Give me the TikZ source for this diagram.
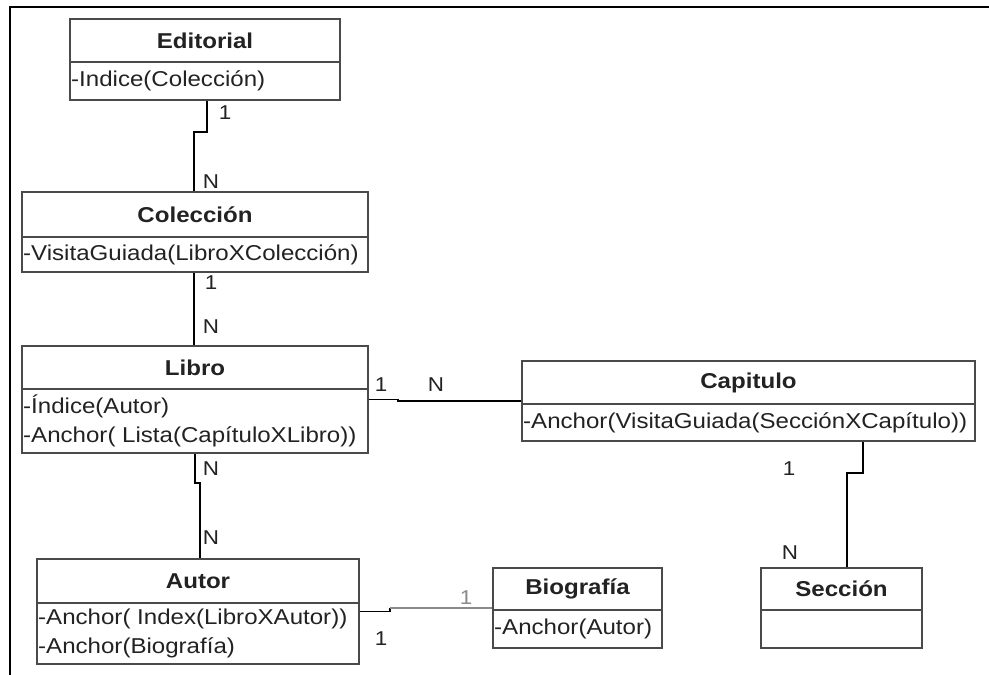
\documentclass[tikz,border=0pt]{standalone}
\usepackage{fontspec}
\setmainfont{Liberation Sans}[FakeStretch=1.12]
\usetikzlibrary{calc}
\definecolor{boxgray}{HTML}{4A4A4A}
\definecolor{txt}{HTML}{222222}
\definecolor{lightline}{HTML}{8A8A8A}
\tikzset{
  classbox/.style={draw=boxgray, line width=1.6pt, fill=white, inner sep=0pt},
  classline/.style={draw=boxgray, line width=1.6pt},
  classtitle/.style={font=\fontsize{21.5}{25}\selectfont\bfseries, text=txt, inner sep=0pt},
  classattr/.style={font=\fontsize{21.5}{29}\selectfont, text=txt, inner sep=1pt, align=left, anchor=west},
  conn/.style={draw=black, line width=1.4pt},
  connlight/.style={draw=lightline, line width=1.2pt},
  mult/.style={font=\fontsize{20}{23}\selectfont, text=txt, inner sep=0pt},
  multlight/.style={font=\fontsize{20}{23}\selectfont, text=lightline, inner sep=0pt},
  frameline/.style={draw=black, line width=1.6pt}
}
% #1 name, #2 x1, #3 y1, #4 x2, #5 y2, #6 ydiv, #7 title, #8 attributes
\newcommand\umlclass[8]{%
  \node[classbox, minimum width={(#4-#2)*1pt}, minimum height={(#5-#3)*1pt}] (#1) at ({(#2+#4)/2},{(#3+#5)/2}) {};
  \draw[classline] (#2,#6) -- (#4,#6);
  \node[classtitle] (#1-t) at ({(#2+#4)/2},{(#3+#6)/2}) {#7};
  \node[classattr] (#1-a) at (#2,{(#6+#5)/2}) {#8};
}
\begin{document}
\begin{tikzpicture}[x=1pt,y=-1pt]
\useasboundingbox (0,0) rectangle (989,675);
\fill[white] (0,0) rectangle (989,675);
% frame
\coordinate (fr-tr) at (989,7);
\coordinate (fr-tl) at (10,7);
\coordinate (fr-bl) at (10,675);
\draw[frameline] (fr-tr) -- (fr-tl) -- (fr-bl);

% classes
\umlclass{edi}{70}{19}{340}{100}{62}{Editorial}{-Indice(Colección)}
\umlclass{col}{22}{192}{368}{272}{237}{Colección}{-VisitaGuiada(LibroXColección)}
\umlclass{lib}{22}{346}{368}{453}{389}{Libro}{-Índice(Autor)\\-Anchor( Lista(CapítuloXLibro))}
\umlclass{cap}{522}{361}{975}{441}{404}{Capitulo}{-Anchor(VisitaGuiada(SecciónXCapítulo))}
\umlclass{aut}{37}{559}{359}{664}{603}{Autor}{-Anchor( Index(LibroXAutor))\\-Anchor(Biografía)}
\umlclass{bio}{493}{568}{662}{648}{610}{Biografía}{-Anchor(Autor)}
\umlclass{sec}{761}{568}{922}{648}{610}{Sección}{}

% connectors
\draw[conn] (207,0 |- edi.south) -- (207,132) -- (194,132) -- (194,0 |- col.north);
\draw[conn] (194,0 |- col.south) -- (194,0 |- lib.north);
\draw[conn] (195,0 |- lib.south) -- (195,483) -- (200,483) -- (200,0 |- aut.north);
\draw[conn] (lib.east) -- (398,0 |- lib.east) -- (398,0 |- cap.west) -- (cap.west);
\draw[conn] (aut.east) -- (390,0 |- aut.east) -- (390,0 |- bio.west);
\draw[connlight] (390,0 |- bio.west) -- (bio.west);
\draw[conn] (863,0 |- cap.south) -- (863,473) -- (847,473) -- (847,0 |- sec.north);

% multiplicities
\node[mult] (m1) at (225,113) {1};
\node[mult] (m2) at (211,182) {N};
\node[mult] (m3) at (211,283) {1};
\node[mult] (m4) at (211,327) {N};
\node[mult] (m5) at (211,469) {N};
\node[mult] (m6) at (211,538) {N};
\node[mult] (m7) at (381,385) {1};
\node[mult] (m8) at (436,385) {N};
\node[multlight] (m9) at (466,598) {1};
\node[mult] (m10) at (381,639) {1};
\node[mult] (m11) at (789,469) {1};
\node[mult] (m12) at (790,553) {N};
\end{tikzpicture}
\end{document}
